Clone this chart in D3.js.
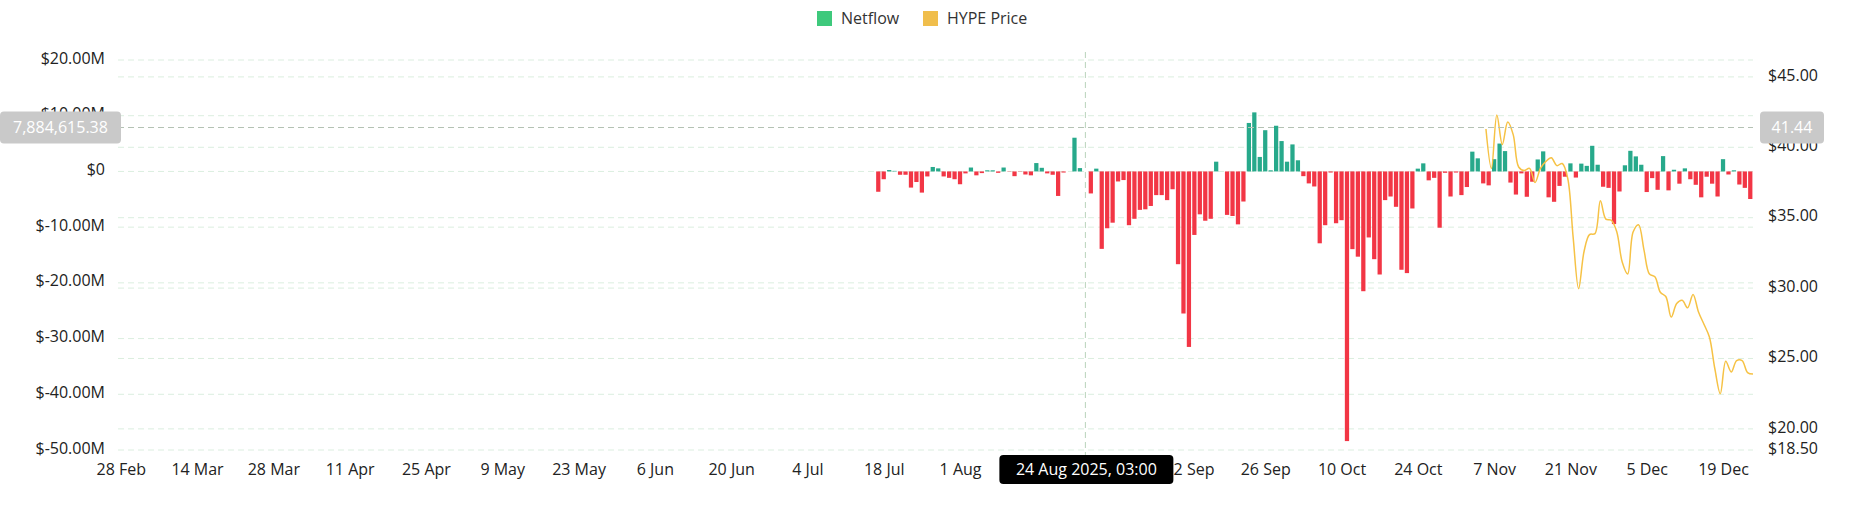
<!DOCTYPE html>
<html>
<head>
<meta charset="utf-8">
<script src="https://cdn.jsdelivr.net/npm/d3@7"></script>
<style>
  body { margin: 0; background: #fff; }
  svg text { font-family: "Open Sans", "Noto Sans", sans-serif; }
</style>
</head>
<body>
<div id="chart"></div>
<script>
// Daily HYPE netflow ($M), one value per day starting at firstFlowDay
const firstFlowDay = "2025-07-17";
const lastFlowDay = "2025-12-24";
const netflow = [
  -3.65, -1.4, 0.25, 0.1, -0.6, -0.6, -2.9, -1.9, -3.8, -0.9,
  0.8, 0.55, -0.9, -1.15, -1.4, -2.3, -0.35, 0.7, -0.7, -0.3,
  0.2, 0.2, -0.25, 0.7, -0.05, -0.85, -0.05, -0.55, -0.7, 1.5,
  0.65, -0.35, -0.6, -4.4, -0.2, 0, 6.05, 0.6, 0, -3.95,
  0.5, -13.9, -10.2, -9.2, -1.8, -1.55, -9.65, -8.5, -6.9, -6.8,
  -6.2, -4.25, -4.25, -5.15, -3.2, -16.65, -25.5, -31.5, -11.4, -7.7,
  -8.85, -8.5, 1.75, 0, -7.8, -8.0, -9.5, -5.4, 8.7, 10.6,
  2.6, 7.4, 0.2, 8.2, 5.45, 1.75, 4.85, 2.0, -0.85, -2.15,
  -2.7, -12.9, -9.65, -0.2, -9.3, -8.75, -48.4, -13.95, -15.3, -21.5,
  -11.85, -15.75, -18.5, -5.15, -4.5, -6.35, -17.65, -18.25, -6.65, 0.5,
  1.45, -1.6, -1.15, -10.1, -0.25, -4.5, -0.2, -4.25, -2.8, 3.55,
  2.35, -2.15, -2.5, 2.2, 5.0, 3.65, -2.0, -4.15, -0.35, -4.55,
  -1.85, 2.15, 3.6, -4.65, -5.45, -2.6, -0.95, 1.45, -1.1, 1.4,
  1.0, 4.6, 1.2, -2.75, -2.95, -9.45, -3.6, 1.1, 3.7, 2.7,
  1.2, -3.7, -1.2, -3.3, 2.75, -3.4, 0.3, -2.2, 0.55, -1.4,
  -2.4, -4.65, -0.95, -2.2, -4.5, 2.2, -0.55, 0.2, -2.35, -2.95,
  -4.95
];

// HYPE price ($), one value per day (00:00) starting at firstPriceDay
const firstPriceDay = "2025-11-06";
const lastPriceDay = "2025-12-25";
const hypePrice = [
  41.3, 38.5, 42.3, 40.2, 41.8, 40.9, 38.6, 38.35, 38.5, 37.5,
  38.5, 39.0, 39.25, 38.7, 38.85, 37.8, 33.6, 29.96, 32.6, 33.8,
  33.87, 36.2, 34.9, 34.82, 34.0, 31.85, 31.0, 33.98, 34.5, 32.7,
  31.0, 30.8, 29.7, 29.4, 27.94, 28.9, 29.13, 28.6, 29.55, 28.3,
  27.43, 26.52, 24.27, 22.5, 24.8, 24.04, 24.85, 24.85, 24.0, 23.9
];

const tickDates = [
  "2025-02-28", "2025-03-14", "2025-03-28", "2025-04-11", "2025-04-25", "2025-05-09",
  "2025-05-23", "2025-06-06", "2025-06-20", "2025-07-04", "2025-07-18", "2025-08-01",
  "2025-08-15", "2025-08-29", "2025-09-12", "2025-09-26", "2025-10-10", "2025-10-24",
  "2025-11-07", "2025-11-21", "2025-12-05", "2025-12-19"
];
const leftTicks = [20e6, 10e6, 0, -10e6, -20e6, -30e6, -40e6, -50e6];
const rightTicks = [45, 40, 35, 30, 25, 20, 18.5];

// hover state shown in the picture
const hoverDay = "2025-08-24";
const hoverLabel = "24 Aug 2025, 03:00";
const hoverFlow = 7884615.38;
const hoverPrice = 41.44;

const width = 1852, height = 525;
const plot = { left: 118, right: 1753, top: 60, bottom: 450 };
const colors = {
  up: "#27a98b", down: "#f23645", price: "#f6c245",
  legendUp: "#3ec97c", legendPrice: "#f0be4c",
  grid: "#dbeedf", cross: "#b4c2b4", crossV: "#b9d3bb", text: "#222"
};

const parse = d3.timeParse("%Y-%m-%d");
const flowDays = d3.timeDay.range(parse(firstFlowDay), d3.timeDay.offset(parse(lastFlowDay), 1));
const priceDays = d3.timeDay.range(parse(firstPriceDay), d3.timeDay.offset(parse(lastPriceDay), 1));
const flowData = flowDays.map((d, i) => ({ date: d, value: netflow[i] * 1e6 }));
const priceData = priceDays.map((d, i) => ({ date: d, value: hypePrice[i] }));

const x = d3.scaleTime()
    .domain([parse(tickDates[0]), d3.timeDay.offset(parse(lastFlowDay), 1)])
    .range([plot.left, plot.right]);
const dayWidth = x(d3.timeDay.offset(parse(tickDates[0]), 1)) - x(parse(tickDates[0]));
const mid = d => d3.timeHour.offset(d, 12);

const yLeft = d3.scaleLinear().domain([-50e6, 20e6]).range([plot.bottom, plot.top]);
const yRight = d3.scaleLinear().domain([18.5, 46.2]).range([plot.bottom, plot.top]);

const svg = d3.select("#chart").append("svg")
    .attr("width", width)
    .attr("height", height);

svg.append("rect").attr("width", width).attr("height", height).attr("fill", "#fff");

// Grid lines (two sets, one for each axis)
const grid = svg.append("g");
grid.selectAll(".gl").data(leftTicks).join("line")
    .attr("x1", plot.left).attr("x2", plot.right)
    .attr("y1", d => yLeft(d)).attr("y2", d => yLeft(d))
    .attr("stroke", colors.grid).attr("stroke-dasharray", "6,4");
grid.selectAll(".gr").data(rightTicks.filter(d => d !== 18.5)).join("line")
    .attr("x1", plot.left).attr("x2", plot.right)
    .attr("y1", d => yRight(d)).attr("y2", d => yRight(d))
    .attr("stroke", colors.grid).attr("stroke-dasharray", "6,4");

// Netflow bars
const barW = dayWidth * 0.78;
svg.append("g").selectAll("rect").data(flowData).join("rect")
    .attr("x", d => x(mid(d.date)) - barW / 2)
    .attr("width", barW)
    .attr("y", d => Math.min(yLeft(d.value), yLeft(0)))
    .attr("height", d => Math.abs(yLeft(d.value) - yLeft(0)))
    .attr("fill", d => d.value >= 0 ? colors.up : colors.down);

// Price line
const line = d3.line()
    .x(d => x(d.date))
    .y(d => yRight(d.value))
    .curve(d3.curveCatmullRom.alpha(0.5));
svg.append("path")
    .datum(priceData)
    .attr("d", line)
    .attr("fill", "none")
    .attr("stroke", colors.price)
    .attr("stroke-width", 1.5);

// Axes
const fmtDate = d3.timeFormat("%-d %b");
const xAxis = d3.axisBottom(x)
    .tickValues(tickDates.map(d => mid(parse(d))))
    .tickFormat(fmtDate)
    .tickSize(0)
    .tickPadding(14);
const gx = svg.append("g").attr("transform", `translate(0,${plot.bottom})`).call(xAxis);

const fmtLeft = v => v === 0 ? "$0" : "$" + d3.format(".2f")(v / 1e6).replace("\u2212", "-") + "M";
const gl = svg.append("g").attr("transform", `translate(${plot.left},-2)`)
    .call(d3.axisLeft(yLeft).tickValues(leftTicks).tickFormat(fmtLeft).tickSize(0).tickPadding(13));

const gr = svg.append("g").attr("transform", `translate(${plot.right},-2)`)
    .call(d3.axisRight(yRight).tickValues(rightTicks).tickFormat(v => "$" + d3.format(".2f")(v)).tickSize(0).tickPadding(15));

[gx, gl, gr].forEach(g => {
    g.select(".domain").remove();
    g.selectAll("text")
        .attr("font-size", "16px")
        .attr("fill", colors.text)
        .style("font-family", "'Open Sans', sans-serif");
});

// Crosshair
const hx = x(mid(parse(hoverDay)));
const hy = yLeft(hoverFlow);
svg.append("line")
    .attr("x1", hx).attr("x2", hx).attr("y1", 52).attr("y2", 455)
    .attr("stroke", colors.crossV).attr("stroke-dasharray", "6,4");
svg.append("line")
    .attr("x1", plot.left).attr("x2", plot.right).attr("y1", hy).attr("y2", hy)
    .attr("stroke", colors.cross).attr("stroke-dasharray", "6,4");

// Crosshair badges
const badge = (bx, bw, text, fill) => {
    svg.append("rect")
        .attr("x", bx).attr("y", hy - 16).attr("width", bw).attr("height", 32)
        .attr("rx", 4).attr("fill", fill);
    svg.append("text")
        .attr("x", bx + bw / 2).attr("y", hy)
        .attr("dy", "0.35em")
        .attr("text-anchor", "middle")
        .attr("font-size", "16px")
        .attr("fill", "#fff")
        .text(text);
};
badge(0, 121, d3.format(",.2f")(hoverFlow), "#c9c9c9");
badge(1760, 64, d3.format(".2f")(hoverPrice), "#c9c9c9");

// Date tooltip on x axis
svg.append("rect")
    .attr("x", hx - 86).attr("y", 455).attr("width", 174).attr("height", 29)
    .attr("rx", 4).attr("fill", "#000");
svg.append("text")
    .attr("x", hx + 1).attr("y", 469.5)
    .attr("dy", "0.35em")
    .attr("text-anchor", "middle")
    .attr("font-size", "16px")
    .attr("font-weight", 500)
    .attr("fill", "#fff")
    .text(hoverLabel);

// Legend
const legendItems = [
    { label: "Netflow", color: colors.legendUp, x: 817 },
    { label: "HYPE Price", color: colors.legendPrice, x: 923 }
];
const legend = svg.append("g");
legendItems.forEach(item => {
    legend.append("rect")
        .attr("x", item.x).attr("y", 11)
        .attr("width", 15).attr("height", 15)
        .attr("fill", item.color);
    legend.append("text")
        .attr("x", item.x + 24).attr("y", 18.5)
        .attr("dy", "0.35em")
        .attr("font-size", "16px")
        .attr("fill", "#333")
        .text(item.label);
});
</script>
</body>
</html>
